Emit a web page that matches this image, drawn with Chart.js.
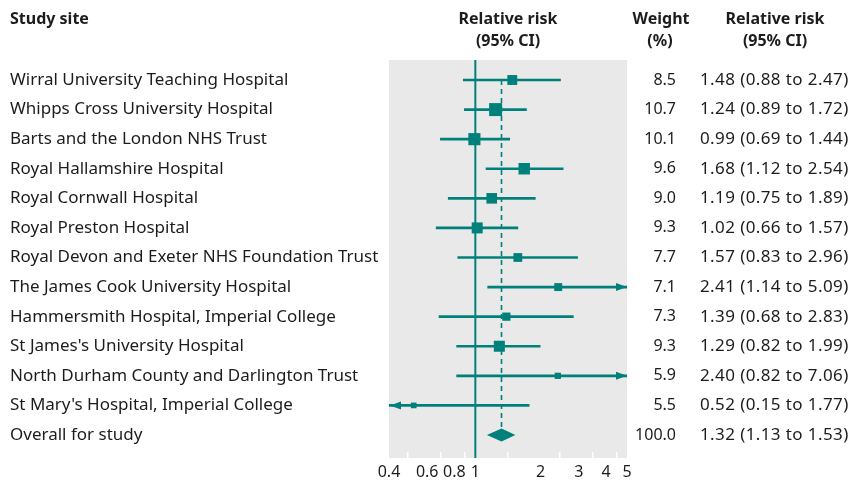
<!DOCTYPE html>
<html><head><meta charset="utf-8">
<script src="https://cdn.jsdelivr.net/npm/chart.js@4/dist/chart.umd.min.js"></script>
<style>html,body{margin:0;padding:0;background:#fff}#wrap{width:854px;height:481px}</style>
</head><body><div id="wrap"><canvas id="c" width="854" height="481"></canvas></div>
<script>
const sites = [
  "Wirral University Teaching Hospital",
  "Whipps Cross University Hospital",
  "Barts and the London NHS Trust",
  "Royal Hallamshire Hospital",
  "Royal Cornwall Hospital",
  "Royal Preston Hospital",
  "Royal Devon and Exeter NHS Foundation Trust",
  "The James Cook University Hospital",
  "Hammersmith Hospital, Imperial College",
  "St James's University Hospital",
  "North Durham County and Darlington Trust",
  "St Mary's Hospital, Imperial College",
  "Overall for study"
];
const relRisk = [1.48, 1.24, 0.99, 1.68, 1.19, 1.02, 1.57, 2.41, 1.39, 1.29, 2.40, 0.52, 1.32];
const ciLow   = [0.88, 0.89, 0.69, 1.12, 0.75, 0.66, 0.83, 1.14, 0.68, 0.82, 0.82, 0.15, 1.13];
const ciHigh  = [2.47, 1.72, 1.44, 2.54, 1.89, 1.57, 2.96, 5.09, 2.83, 1.99, 7.06, 1.77, 1.53];
const weights = [8.5, 10.7, 10.1, 9.6, 9.0, 9.3, 7.7, 7.1, 7.3, 9.3, 5.9, 5.5, 100.0];
const xTicks = [0.4, 0.6, 0.8, 1, 2, 3, 4, 5];

const TEAL = '#00807a';
const TEXT = '#1c1c1c';
const FONT = '"Noto Sans", "Open Sans", sans-serif';
const nStudies = sites.length - 1;
const overall = nStudies;

const studyIdx = sites.slice(0, nStudies).map((_, i) => i);

const forestPlugin = {
  id: 'forest',
  beforeDraw(chart) {
    const {ctx, chartArea: a} = chart;
    ctx.save();
    ctx.fillStyle = '#e9e9e9';
    ctx.fillRect(a.left, a.top, a.right - a.left, a.bottom - a.top + 6);
    ctx.restore();
  },
  beforeDatasetsDraw(chart) {
    const {ctx, chartArea: a, scales: {x, y}} = chart;
    ctx.save();
    ctx.strokeStyle = TEAL;
    ctx.lineWidth = 2;
    const x1 = x.getPixelForValue(1);
    ctx.beginPath(); ctx.moveTo(x1, a.top); ctx.lineTo(x1, a.bottom + 6); ctx.stroke();
    const xo = x.getPixelForValue(relRisk[overall]);
    ctx.lineWidth = 1.6;
    ctx.setLineDash([5, 4]);
    ctx.beginPath(); ctx.moveTo(xo, y.getPixelForValue(0)); ctx.lineTo(xo, y.getPixelForValue(overall) - 6); ctx.stroke();
    ctx.restore();
  },
  afterDatasetsDraw(chart) {
    const {ctx, chartArea: a, scales: {x, y}} = chart;
    ctx.save();
    ctx.fillStyle = TEAL;
    studyIdx.forEach(i => {
      const py = y.getPixelForValue(i);
      if (ciHigh[i] > x.max) {
        ctx.beginPath();
        ctx.moveTo(a.right, py); ctx.lineTo(a.right - 11, py - 4); ctx.lineTo(a.right - 11, py + 4);
        ctx.closePath(); ctx.fill();
      }
      if (ciLow[i] < x.min) {
        ctx.beginPath();
        ctx.moveTo(a.left + 1, py); ctx.lineTo(a.left + 12, py - 4); ctx.lineTo(a.left + 12, py + 4);
        ctx.closePath(); ctx.fill();
      }
    });
    const oy = y.getPixelForValue(overall);
    ctx.beginPath();
    ctx.moveTo(x.getPixelForValue(ciLow[overall]), oy);
    ctx.lineTo(x.getPixelForValue(relRisk[overall]), oy - 6.5);
    ctx.lineTo(x.getPixelForValue(ciHigh[overall]), oy);
    ctx.lineTo(x.getPixelForValue(relRisk[overall]), oy + 6.5);
    ctx.closePath(); ctx.fill();
    ctx.restore();
  },
  afterDraw(chart) {
    const {ctx, scales: {y}} = chart;
    ctx.save();
    ctx.fillStyle = TEXT;
    ctx.textBaseline = 'middle';
    ctx.font = 'bold 16px ' + FONT;
    ctx.textAlign = 'left';
    ctx.fillText('Study site', 10, 19);
    ctx.textAlign = 'center';
    ctx.fillText('Relative risk', 508, 19);
    ctx.fillText('(95% CI)', 508, 41);
    ctx.fillText('Weight', 661, 19);
    ctx.fillText('(%)', 660, 41);
    ctx.fillText('Relative risk', 775, 19);
    ctx.fillText('(95% CI)', 775, 41);
    sites.forEach((s, i) => {
      const py = y.getPixelForValue(i);
      ctx.font = '16px ' + FONT;
      if ('letterSpacing' in ctx) ctx.letterSpacing = '0px';
      ctx.textAlign = 'right';
      ctx.fillText(weights[i].toFixed(1), 676, py);
      ctx.font = '17px ' + FONT;
      if ('letterSpacing' in ctx) ctx.letterSpacing = '0.4px';
      ctx.textAlign = 'left';
      ctx.fillText(relRisk[i].toFixed(2) + ' (' + ciLow[i].toFixed(2) + ' to ' + ciHigh[i].toFixed(2) + ')', 700, py);
    });
    ctx.restore();
  }
};

new Chart(document.getElementById('c'), {
  type: 'bar',
  data: {
    datasets: [
      {
        type: 'bar',
        indexAxis: 'y',
        data: studyIdx.map(i => ({x: [ciLow[i], ciHigh[i]], y: i})),
        backgroundColor: TEAL,
        borderWidth: 0,
        barThickness: 2,
        order: 2
      },
      {
        type: 'scatter',
        data: studyIdx.map(i => ({x: relRisk[i], y: i})),
        pointStyle: 'rect',
        pointRadius: c => Math.max(2, 1.4 * weights[c.dataIndex] - 2) / Math.SQRT2,
        pointHoverRadius: c => Math.max(2, 1.4 * weights[c.dataIndex] - 2) / Math.SQRT2,
        backgroundColor: TEAL,
        borderWidth: 0,
        order: 1
      }
    ]
  },
  options: {
    responsive: false,
    devicePixelRatio: 1,
    animation: false,
    events: [],
    layout: {padding: {left: 10, right: 227, top: 60, bottom: 0}},
    plugins: {legend: {display: false}, tooltip: {enabled: false}},
    scales: {
      x: {
        type: 'logarithmic',
        offset: false,
        min: 0.4, max: 5,
        afterBuildTicks: s => { s.ticks = xTicks.map(v => ({value: v})); },
        afterFit: s => { s.height = 29; },
        ticks: {
          autoSkip: false, maxRotation: 0, padding: 5,
          color: TEXT, font: {family: FONT, size: 16},
          callback: v => String(v)
        },
        grid: {drawOnChartArea: false, drawTicks: true, tickLength: 6, color: '#ffffff', lineWidth: 1.5},
        border: {display: false}
      },
      y: {
        type: 'linear',
        offset: false,
        reverse: true,
        min: -0.676, max: 12.575,
        afterBuildTicks: s => { s.ticks = sites.map((_, i) => ({value: i})); },
        afterFit: s => { s.width = 379; },
        ticks: {
          autoSkip: false, crossAlign: 'far', padding: 0,
          color: TEXT, font: {family: FONT, size: 17},
          callback: v => sites[v]
        },
        grid: {display: false, offset: false},
        border: {display: false}
      }
    }
  },
  plugins: [forestPlugin]
});
</script>
</body></html>
